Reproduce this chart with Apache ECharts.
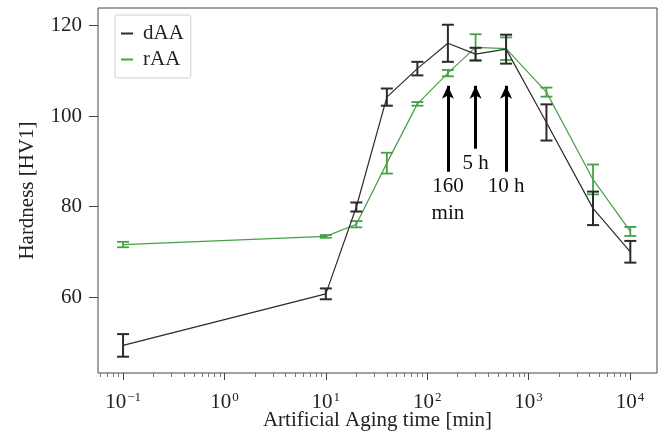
<!DOCTYPE html>
<html>
<head>
<meta charset="utf-8">
<script src="https://cdn.jsdelivr.net/npm/echarts@6/dist/echarts.min.js"></script>
<style>
  html, body { margin: 0; padding: 0; background: #fff; }
  #main { width: 664px; height: 437px; }
</style>
</head>
<body>
<div id="main"></div>
<script>
// aging times [min] and hardness values
var times = [0.1, 10, 20, 40, 80, 160, 300, 600, 1500, 4320, 10080];
var dAA = [49.3, 60.7, 79.9, 104.2, 110.5, 116.1, 113.7, 114.8, 98.6, 79.6, 70.0];
var dAAErr = [2.5, 1.2, 1.0, 1.9, 1.5, 4.1, 1.4, 3.2, 4.0, 3.7, 2.4];
var rAA = [71.6, 73.4, 76.1, 89.6, 102.7, 109.5, 115.2, 114.9, 105.3, 86.0, 74.5];
var rAAErr = [0.6, 0.3, 0.7, 2.3, 0.4, 0.7, 2.9, 2.5, 1.0, 3.3, 1.0];

// arrows marking the chosen aging states
var arrowX = [160, 300, 600];
var arrowFrom = [87.7, 92.8, 87.7];
var arrowTo = [106.7, 106.7, 106.7];
var arrowText = ['160\nmin', '5 h', '10 h'];

var decades = [0.1, 1, 10, 100, 1000, 10000];
var yTicks = [60, 80, 100, 120];

var FONT = 'Liberation Serif';
var FS = 21;
var DARK = '#2b2b2b';
var GREEN = '#46a046';

// minor ticks 2..9 in every decade
var minorTicks = [];
[0.01, 0.1, 1, 10, 100, 1000, 10000].forEach(function (d) {
  for (var k = 2; k <= 9; k++) {
    var v = d * k;
    if (v > 0.0566 && v < 18480) minorTicks.push(v);
  }
});

function pairs(xs, ys) {
  return xs.map(function (x, i) { return [x, ys[i]]; });
}
function errData(xs, ys, es) {
  return xs.map(function (x, i) { return [x, ys[i] - es[i], ys[i] + es[i]]; });
}
function errRender(color, w) {
  return function (params, api) {
    var lo = api.coord([api.value(0), api.value(1)]);
    var hi = api.coord([api.value(0), api.value(2)]);
    var c = 6;
    var st = { stroke: color, lineWidth: w };
    return {
      type: 'group',
      children: [
        { type: 'line', shape: { x1: lo[0], y1: lo[1], x2: hi[0], y2: hi[1] }, style: st },
        { type: 'line', shape: { x1: lo[0] - c, y1: lo[1], x2: lo[0] + c, y2: lo[1] }, style: st },
        { type: 'line', shape: { x1: hi[0] - c, y1: hi[1], x2: hi[0] + c, y2: hi[1] }, style: st }
      ]
    };
  };
}
function supLabel(v) {
  var e = Math.round(Math.log10(v));
  var s = e < 0 ? '\u2212' + (-e) : '' + e;
  return '{b|10}{e|' + s + '}';
}

var chart = echarts.init(document.getElementById('main'));
var option = {
  animation: false,
  textStyle: { fontFamily: FONT },
  grid: {
    left: 98, right: 7, top: 8, bottom: 64,
    outerBoundsMode: 'none', containLabel: false,
    show: true, borderColor: '#444', borderWidth: 1, backgroundColor: 'transparent'
  },
  legend: {
    left: 115, top: 15,
    orient: 'vertical',
    data: ['dAA', 'rAA'],
    icon: 'path://M0,0L12,0L12,2L0,2Z',
    itemWidth: 12, itemHeight: 2, itemGap: 5,
    borderColor: '#d0d0d0', borderWidth: 1, borderRadius: 2,
    padding: [8, 7, 8, 6],
    textStyle: { fontFamily: FONT, fontSize: FS, color: '#222', padding: [0, 0, 0, 5] }
  },
  xAxis: [{
    type: 'log', logBase: 10, min: 0.0566, max: 18480,
    name: 'Artificial Aging time [min]', nameLocation: 'middle', nameGap: 37,
    nameMoveOverlap: false,
    nameTextStyle: { fontFamily: FONT, fontSize: FS, color: '#222' },
    axisLine: { show: false },
    axisTick: { show: true, inside: false, length: 7, customValues: decades, lineStyle: { color: '#444' } },
    axisLabel: {
      customValues: decades, margin: 18,
      formatter: supLabel,
      rich: {
        b: { fontFamily: FONT, fontSize: FS, color: '#222', lineHeight: 22, verticalAlign: 'bottom' },
        e: { fontFamily: FONT, fontSize: 13, color: '#222', lineHeight: 13, verticalAlign: 'top', padding: [0, 0, 0, 1] }
      }
    },
    splitLine: { show: false }
  }, {
    type: 'log', logBase: 10, min: 0.0566, max: 18480, position: 'bottom',
    axisLine: { show: false },
    axisTick: { show: true, inside: false, length: 4, customValues: minorTicks, lineStyle: { color: '#777' } },
    axisLabel: { show: false },
    splitLine: { show: false }
  }],
  yAxis: {
    type: 'value', min: 43.2, max: 123.9,
    name: 'Hardness [HV1]', nameLocation: 'middle', nameGap: 60,
    nameMoveOverlap: false,
    nameTextStyle: { fontFamily: FONT, fontSize: FS, color: '#222' },
    axisLine: { show: false },
    axisTick: { show: true, inside: false, length: 9, customValues: yTicks, lineStyle: { color: '#444' } },
    axisLabel: { customValues: yTicks, fontFamily: FONT, fontSize: FS, color: '#222', margin: 16 },
    splitLine: { show: false }
  },
  series: [
    {
      name: 'dAA', type: 'line', data: pairs(times, dAA), color: DARK,
      showSymbol: false, symbol: 'none', lineStyle: { color: DARK, width: 1.2 }, z: 3,
      markLine: {
        silent: true, symbol: ['none', 'arrow'], symbolSize: [9, 13],
        lineStyle: { color: '#000', width: 3, type: 'solid' },
        label: { show: true, position: 'start', distance: 1, fontFamily: FONT, fontSize: FS, color: '#111', lineHeight: 27 },
        data: arrowX.map(function (x, i) {
          return [
            { coord: [x, arrowFrom[i]], label: { formatter: arrowText[i] } },
            { coord: [x, arrowTo[i]] }
          ];
        })
      }
    },
    {
      name: 'rAA', type: 'line', data: pairs(times, rAA), color: GREEN,
      showSymbol: false, symbol: 'none', lineStyle: { color: GREEN, width: 1.2 }, z: 2
    },
    {
      name: 'dAA err', type: 'custom', data: errData(times, dAA, dAAErr),
      renderItem: errRender(DARK, 2), z: 4, silent: true
    },
    {
      name: 'rAA err', type: 'custom', data: errData(times, rAA, rAAErr),
      renderItem: errRender(GREEN, 1.8), z: 3, silent: true
    }
  ]
};
chart.setOption(option);
</script>
</body>
</html>
